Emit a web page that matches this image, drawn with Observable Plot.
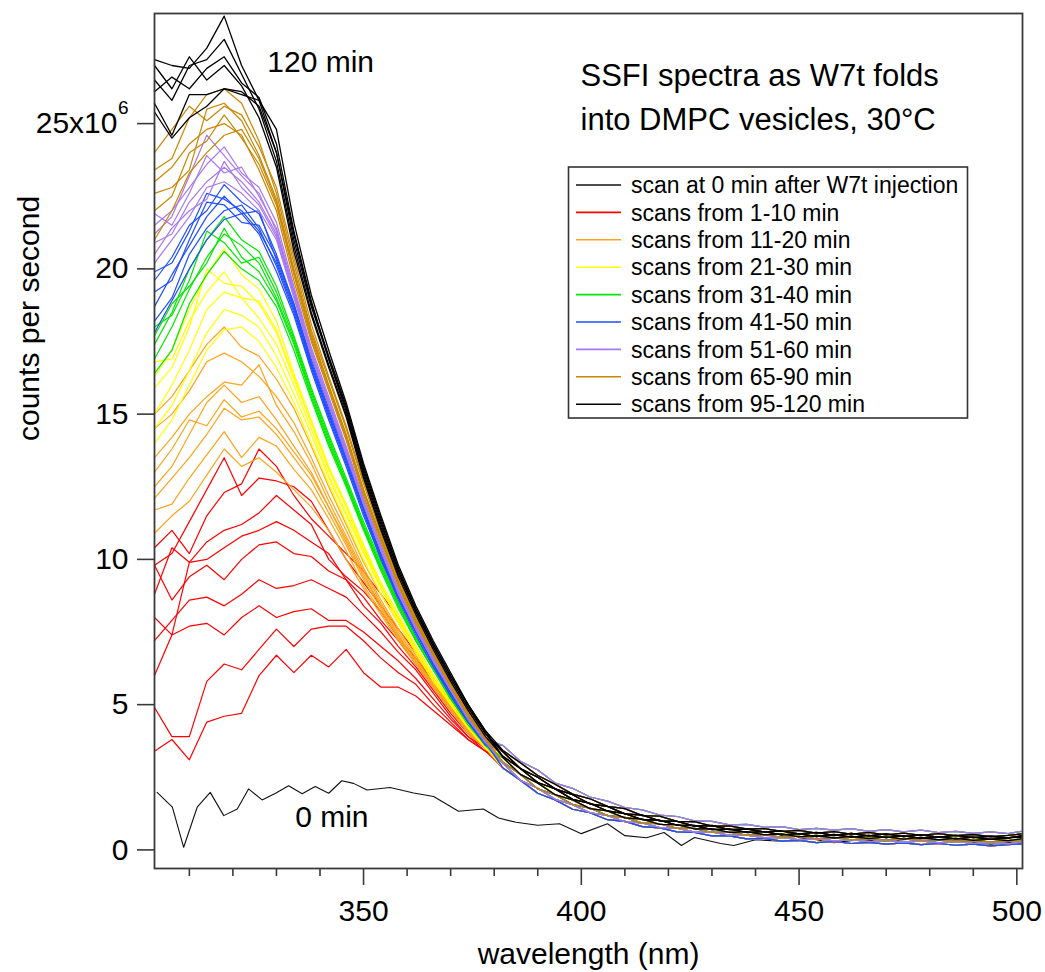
<!DOCTYPE html>
<html><head><meta charset="utf-8">
<script src="https://cdn.jsdelivr.net/npm/d3@7"></script>
<script src="https://cdn.jsdelivr.net/npm/@observablehq/plot@0.6"></script>
<style>
body{margin:0;background:#fff;font-family:"Liberation Sans",Arial,sans-serif}
#chart{width:1045px;height:972px}
</style></head><body><div id="chart"></div>
<script>
// ---- wavelength grids (nm) ----
const headWavelengths = [302,306,310,314,318,322,326,330,334,338,342,346,350,354,358,362,366,370,374,378];
const tailWavelengths = [382,386,390,394,398,402,406,410,414,418,422,426,430,434,438,442,446,450,454,458,462,466,470,474,478,482,486,490,494,498,501];
// overlapping tails beyond 380 nm (x10^6 counts/s), from highest to lowest trace in the band
const tailVariants = [
  [3.6,3.05,2.75,2.3,2.12,1.82,1.68,1.46,1.38,1.2,1.15,1.0,0.98,0.86,0.88,0.78,0.8,0.7,0.74,0.68,0.73,0.64,0.7,0.62,0.68,0.6,0.64,0.57,0.62,0.56,0.64],
  [3.42,3.0,2.56,2.26,1.92,1.76,1.5,1.42,1.18,1.16,0.98,0.97,0.82,0.83,0.72,0.73,0.64,0.67,0.58,0.63,0.54,0.6,0.52,0.58,0.5,0.56,0.49,0.53,0.46,0.5,0.55],
  [3.38,2.8,2.5,2.1,1.9,1.58,1.5,1.24,1.2,1.0,0.98,0.82,0.84,0.7,0.72,0.62,0.65,0.55,0.6,0.5,0.57,0.48,0.55,0.46,0.52,0.44,0.5,0.42,0.47,0.41,0.48],
  [3.22,2.8,2.32,2.1,1.74,1.6,1.34,1.25,1.04,1.02,0.85,0.84,0.7,0.72,0.6,0.63,0.52,0.56,0.46,0.53,0.44,0.5,0.42,0.48,0.4,0.46,0.38,0.44,0.36,0.42,0.44],
  [3.18,2.6,2.3,1.9,1.72,1.42,1.34,1.1,1.06,0.88,0.87,0.72,0.73,0.6,0.63,0.52,0.55,0.45,0.5,0.41,0.47,0.39,0.45,0.37,0.43,0.35,0.4,0.33,0.37,0.32,0.38],
  [3.02,2.6,2.1,1.9,1.56,1.44,1.18,1.12,0.92,0.9,0.74,0.74,0.6,0.62,0.5,0.53,0.43,0.47,0.38,0.43,0.35,0.4,0.33,0.38,0.32,0.35,0.3,0.33,0.27,0.31,0.33],
  [2.98,2.4,2.12,1.74,1.56,1.28,1.19,0.97,0.93,0.77,0.75,0.61,0.62,0.5,0.51,0.42,0.43,0.35,0.38,0.31,0.35,0.28,0.33,0.26,0.31,0.24,0.29,0.22,0.26,0.21,0.27],
  [2.82,2.4,1.95,1.72,1.4,1.28,1.04,0.98,0.8,0.76,0.62,0.6,0.48,0.48,0.38,0.4,0.3,0.33,0.25,0.29,0.22,0.26,0.2,0.24,0.18,0.22,0.16,0.2,0.14,0.18,0.21]
];
// which tail each group's scans follow (cycled over the scans of the group)
const tailChoice = [[7,6,5,4],[6,4,2,5],[7,5,3],[6,0,4],[7,1,5],[0,6,2],[1,3,5,2],[2,3,4,1]];
// ---- scan at 0 min ----
const zeroMinWavelengths = [302.6,306.1,308.7,311.8,314.8,317.9,321,323.6,326.7,329.8,332.8,335.9,338.9,342,345,347.7,350.8,356.1,361.5,366.1,371.8,377.5,381,385,390,395,400,406,410,415,419,423,426,432,435,440,446,452,458,464,470,476,482,488,494,501];
const zeroMinCounts = [1.98,1.47,0.09,1.47,1.98,1.18,1.41,2.1,1.72,1.95,2.21,1.93,2.18,1.95,2.38,2.29,2.06,2.15,1.96,1.84,1.33,1.41,1.1,0.95,0.85,0.9,0.56,0.9,0.49,0.42,0.6,0.15,0.43,0.22,0.15,0.35,0.3,0.4,0.25,0.35,0.3,0.38,0.25,0.3,0.2,0.28];
// ---- scans (values at headWavelengths, x10^6 counts/s) ----
const scans1to10 = [
  [10.4,11.0,10.2,11.5,12.3,12.6,13.8,13.2,12.2,11.4,10.8,10.2,9.6,8.8,8.0,7.0,6.0,5.1,4.3,3.7],
  [9.8,10.2,11.3,12.4,13.5,12.2,12.8,12.7,12.5,12.0,11.0,10.0,9.2,8.4,7.6,6.8,5.9,5.0,4.2,3.6],
  [8.8,10.4,9.9,10.6,11.0,11.2,11.6,12.2,11.7,11.2,10.0,9.4,8.9,8.2,7.3,6.6,5.8,4.9,4.1,3.6],
  [8.0,7.4,9.9,10.0,10.4,10.8,11.0,11.3,11.0,10.6,10.2,9.3,8.7,7.9,7.2,6.4,5.6,4.8,4.1,3.5],
  [9.8,8.6,9.4,9.8,9.3,10.0,10.5,10.6,10.2,10.1,9.6,9.3,8.4,7.8,7.0,6.3,5.5,4.7,4.0,3.5],
  [7.2,7.9,8.6,8.7,8.4,8.8,9.3,9.0,9.1,9.3,9.0,8.7,8.1,7.5,6.8,6.2,5.4,4.6,3.9,3.5],
  [6.0,7.4,7.7,7.8,7.4,8.0,8.4,8.0,8.2,8.3,7.9,7.9,7.5,7.0,6.5,5.9,5.2,4.5,3.9,3.4],
  [4.9,3.9,3.9,5.8,6.4,6.2,6.9,7.6,7.0,7.6,7.7,7.7,7.2,6.6,6.1,5.7,5.0,4.4,3.8,3.4],
  [3.4,3.8,3.1,4.4,4.6,4.7,6.0,6.7,6.1,6.7,6.3,6.9,6.1,5.6,5.6,5.3,4.8,4.3,3.8,3.4]
];
const scans11to20 = [
  [15.0,15.6,16.5,17.4,18.0,17.3,17.0,16.2,15.2,13.9,12.5,11.2,9.9,8.8,7.8,6.8,5.9,5.0,4.2,3.6],
  [14.5,15.0,15.8,16.8,17.1,16.8,16.3,15.6,14.7,13.5,12.2,11.0,9.7,8.6,7.6,6.7,5.8,4.9,4.2,3.6],
  [13.5,14.2,15.0,15.6,16.1,16.0,16.7,15.3,14.4,13.3,12.0,10.8,9.6,8.5,7.5,6.6,5.7,4.9,4.1,3.5],
  [12.5,13.2,14.3,15.4,16.0,15.4,15.6,14.8,13.9,13.0,11.8,10.6,9.4,8.4,7.4,6.5,5.7,4.9,4.1,3.5],
  [12.1,12.8,13.5,14.3,15.2,14.8,14.9,14.3,13.5,12.7,11.6,10.5,9.3,8.3,7.3,6.5,5.7,4.8,4.1,3.5],
  [11.7,11.9,12.8,13.6,14.4,13.5,14.2,13.9,13.1,12.4,11.4,10.3,9.1,8.2,7.3,6.4,5.6,4.8,4.1,3.5],
  [10.9,11.5,12.0,12.9,13.8,13.2,13.5,13.0,12.4,11.8,11.0,10.0,9.0,8.1,7.2,6.4,5.6,4.8,4.0,3.5],
  [13.0,13.8,14.8,14.6,15.5,14.9,15.1,14.5,13.7,12.9,11.8,10.7,9.5,8.4,7.4,6.5,5.7,4.9,4.1,3.5]
];
const scans21to30 = [
  [16.3,17.2,18.6,19.8,20.7,19.8,19.3,18.2,16.4,14.8,13.2,11.9,10.5,9.2,8.1,7.0,6.0,5.1,4.3,3.6],
  [15.9,16.6,18.0,20.0,19.5,19.4,18.8,17.8,16.2,14.7,13.1,11.8,10.4,9.1,8.0,7.0,6.0,5.1,4.3,3.6],
  [15.0,16.0,17.2,18.6,19.2,19.0,18.3,17.4,16.0,14.5,12.9,11.6,10.3,9.0,7.9,6.9,5.9,5.0,4.2,3.5],
  [14.5,15.3,16.5,17.8,18.6,18.4,18.0,17.0,15.7,14.3,12.8,11.5,10.2,9.0,7.9,6.9,5.9,5.0,4.2,3.5],
  [16.8,16.9,18.2,19.2,19.9,19.0,18.9,17.9,16.3,14.7,13.1,11.8,10.4,9.1,8.0,7.0,6.0,5.1,4.3,3.6],
  [14.0,14.8,16.0,17.2,17.9,18.0,17.5,16.6,15.4,14.0,12.6,11.3,10.0,8.8,7.8,6.8,5.8,5.0,4.2,3.5]
];
const scans31to40 = [
  [17.4,18.5,20.0,21.0,21.8,21.0,20.6,19.4,17.7,15.9,14.3,12.8,11.3,9.9,8.5,7.3,6.3,5.3,4.4,3.6],
  [16.9,18.0,19.3,20.4,21.2,20.8,20.2,19.0,17.5,15.7,14.1,12.6,11.1,9.7,8.4,7.2,6.2,5.2,4.4,3.6],
  [18.0,18.4,19.6,21.3,20.9,20.2,20.4,19.2,17.6,15.8,14.2,12.7,11.2,9.8,8.5,7.3,6.3,5.3,4.4,3.6],
  [16.4,17.2,18.8,19.8,20.6,20.0,19.6,18.7,17.2,15.5,13.9,12.5,11.0,9.6,8.3,7.2,6.2,5.2,4.3,3.6],
  [17.7,18.8,19.4,20.2,21.4,20.4,19.9,18.9,17.4,15.6,14.0,12.6,11.1,9.7,8.4,7.2,6.2,5.2,4.4,3.6]
];
const scans41to50 = [
  [19.6,20.4,21.5,22.0,22.9,22.3,21.9,20.5,18.8,16.9,15.2,13.6,11.8,10.2,8.8,7.6,6.5,5.4,4.5,3.7],
  [18.7,19.8,20.8,21.8,22.5,21.9,22.0,20.3,18.7,16.7,15.0,13.4,11.7,10.1,8.7,7.5,6.4,5.4,4.5,3.7],
  [18.2,19.0,20.5,21.4,22.0,22.2,21.4,20.1,18.5,16.6,14.9,13.3,11.6,10.0,8.7,7.5,6.4,5.3,4.4,3.7],
  [19.2,19.6,21.0,22.3,22.2,21.6,21.5,20.4,18.8,16.8,15.1,13.5,11.8,10.2,8.8,7.6,6.5,5.4,4.5,3.7],
  [17.8,18.9,20.0,21.0,21.7,21.9,21.2,19.9,18.4,16.5,14.8,13.2,11.5,10.0,8.6,7.4,6.3,5.3,4.4,3.6],
  [19.9,20.2,21.3,22.6,22.4,22.0,21.3,20.2,18.6,16.7,15.0,13.4,11.7,10.1,8.7,7.5,6.4,5.4,4.5,3.7]
];
const scans51to60 = [
  [21.5,22.0,22.8,23.6,24.2,23.3,22.8,21.6,19.4,17.3,15.6,13.9,12.1,10.5,9.0,7.8,6.7,5.6,4.6,3.8],
  [20.9,21.2,22.3,23.0,23.5,23.0,22.3,21.2,19.2,17.1,15.4,13.7,11.9,10.3,8.9,7.7,6.6,5.5,4.6,3.8],
  [20.2,21.0,21.8,22.8,23.0,22.6,22.0,21.0,19.0,17.0,15.3,13.6,11.9,10.3,8.8,7.6,6.5,5.5,4.5,3.7],
  [21.9,21.5,22.6,23.9,23.3,23.5,22.5,21.4,19.3,17.2,15.5,13.8,12.0,10.4,8.9,7.7,6.6,5.5,4.6,3.8],
  [20.5,21.4,22.0,22.4,23.7,22.8,22.2,21.1,19.1,17.0,15.3,13.7,11.9,10.3,8.9,7.6,6.5,5.5,4.5,3.7],
  [21.2,21.8,23.2,24.6,23.9,23.2,22.6,21.3,19.2,17.1,15.4,13.8,12.0,10.4,8.9,7.7,6.6,5.5,4.6,3.8]
];
const scans65to90 = [
  [23.4,23.8,25.2,26.0,26.2,25.7,24.4,22.6,20.2,17.9,16.2,14.5,12.6,10.9,9.3,8.0,6.9,5.8,4.8,3.9],
  [22.6,22.8,23.4,25.5,25.7,25.1,23.9,22.4,20.0,17.8,16.0,14.3,12.4,10.8,9.2,7.9,6.8,5.7,4.7,3.9],
  [22.0,22.5,24.0,24.4,25.3,24.5,23.6,22.2,19.8,17.6,15.9,14.2,12.3,10.7,9.1,7.8,6.7,5.6,4.7,3.8],
  [24.0,24.8,25.6,25.1,25.6,25.3,24.2,22.8,20.4,18.1,16.3,14.6,12.7,11.0,9.4,8.0,6.9,5.8,4.8,3.9],
  [21.0,22.0,23.3,24.0,24.6,24.8,23.8,22.3,19.9,17.7,16.0,14.3,12.4,10.7,9.2,7.9,6.8,5.7,4.7,3.8],
  [23.0,23.5,24.3,24.8,25.0,24.6,23.4,22.0,19.6,17.5,15.8,14.1,12.2,10.6,9.1,7.8,6.7,5.6,4.6,3.8]
];
const scans95to120 = [
  [27.2,27.0,26.9,27.6,28.7,27.0,25.8,24.0,21.0,18.7,16.9,15.2,13.1,11.3,9.6,8.3,7.1,6.0,5.0,4.0],
  [26.5,25.8,27.0,27.2,27.9,26.7,25.5,23.7,20.8,18.5,16.7,15.0,12.9,11.1,9.5,8.2,7.0,5.9,4.9,4.0],
  [25.7,24.6,26.0,26.0,26.2,26.1,25.6,24.0,21.2,18.8,17.0,15.3,13.2,11.4,9.7,8.3,7.1,6.0,5.0,4.1],
  [25.4,24.5,25.2,25.6,26.2,26.0,25.8,24.8,21.6,19.1,17.2,15.4,13.3,11.5,9.8,8.4,7.2,6.1,5.0,4.1],
  [26.1,26.6,26.2,26.9,27.3,26.4,25.9,24.3,21.3,18.9,16.9,15.1,13.0,11.2,9.6,8.2,7.0,5.9,4.9,4.0],
  [27.0,26.2,27.3,26.5,27.0,26.3,25.2,23.5,20.6,18.4,16.6,14.9,12.8,11.0,9.4,8.1,6.9,5.8,4.8,3.9]
];
// ---- legend / text ----
const legendLabels = ["scan at 0 min after W7t injection","scans from 1-10 min","scans from 11-20 min","scans from 21-30 min","scans from 31-40 min","scans from 41-50 min","scans from 51-60 min","scans from 65-90 min","scans from 95-120 min"];
const seriesColors = ["#111111","#ff0000","#ffa31a","#ffff00","#00e800","#1f4fff","#a878ee","#c98600","#000000"];
const titleLines = ["SSFI spectra as W7t folds","into DMPC vesicles, 30°C"];
const annotations = [{label:"120 min", wavelength:327.9, counts:27.1},{label:"0 min", wavelength:334.3, counts:1.12}];
const xMajorTicks = [350,400,450,500];
const xMinorTicks = [310,320,330,340,360,370,380,390,410,420,430,440,460,470,480,490];
const yTicks = [0,5,10,15,20,25];
const yTickLabels = ["0","5","10","15","20","25x10"];
const yTickExponent = "6";

const scanGroups = [scans1to10, scans11to20, scans21to30, scans31to40, scans41to50, scans51to60, scans65to90, scans95to120];
const rows = [];
scanGroups.forEach((curves, gi) => curves.forEach((head, ci) => {
  const id = gi + "-" + ci;
  const choice = tailChoice[gi];
  const tail = tailVariants[choice[ci % choice.length]];
  headWavelengths.forEach((w, k) => rows.push({group: gi, id, wavelength: w, counts: head[k]}));
  tailWavelengths.forEach((w, k) => rows.push({group: gi, id, wavelength: w, counts: tail[k]}));
}));
const zeroRows = zeroMinWavelengths.map((w, k) => ({wavelength: w, counts: zeroMinCounts[k]}));

const font = "Liberation Sans, Arial, sans-serif";
const axisStroke = "#3a3a3a";
const plot = Plot.plot({
  width: 1045, height: 972,
  marginLeft: 154, marginRight: 23, marginTop: 13, marginBottom: 104,
  x: {domain: [302, 501.3]},
  y: {domain: [-0.64, 28.79]},
  style: {fontFamily: font, fontSize: "30px", color: "#000", background: "#fff", overflow: "visible"},
  marks: [
    Plot.line(zeroRows, {x: "wavelength", y: "counts", stroke: seriesColors[0], strokeWidth: 1.1}),
    ...scanGroups.map((_, gi) => Plot.line(rows.filter(r => r.group === gi), {
      x: "wavelength", y: "counts", z: "id", stroke: seriesColors[gi + 1], strokeWidth: gi === 7 ? 1.3 : 1.2
    })),
    Plot.frame({stroke: axisStroke, strokeWidth: 1.8}),
    Plot.axisX(xMajorTicks, {tickSize: 17, tickPadding: 14, tickFormat: d => String(d), label: null, fontSize: 30, stroke: axisStroke, strokeWidth: 1.6}),
    Plot.axisX(xMinorTicks, {tickSize: 8, tickFormat: () => "", label: null, stroke: axisStroke, strokeWidth: 1.6}),
    Plot.axisY(yTicks, {tickSize: 17, tickFormat: () => "", label: null, stroke: axisStroke, strokeWidth: 1.6}),
    Plot.text(yTicks.slice(0, 5), {y: d => d, text: (d, i) => yTickLabels[i], frameAnchor: "left", textAnchor: "end", lineAnchor: "middle", dx: -26, fontSize: 30}),
    Plot.text(yTicks.slice(5), {y: d => d, text: () => yTickLabels[5], frameAnchor: "left", textAnchor: "end", lineAnchor: "middle", dx: -37, fontSize: 30}),
    Plot.text(yTicks.slice(5), {y: d => d, text: () => yTickExponent, frameAnchor: "left", textAnchor: "end", lineAnchor: "middle", dx: -26, dy: -16, fontSize: 19}),
    Plot.text(["wavelength (nm)"], {text: d => d, frameAnchor: "bottom", dy: 74, lineAnchor: "top", fontSize: 30}),
    Plot.text(["counts per second"], {text: d => d, frameAnchor: "left", dx: -125, rotate: -90, lineAnchor: "middle", fontSize: 30}),
    Plot.text([titleLines.join("\n")], {text: d => d, frameAnchor: "top-left", dx: 426, dy: 42, textAnchor: "start", lineAnchor: "top", fontSize: 31, lineHeight: 1.4}),
    Plot.text(annotations, {x: "wavelength", y: "counts", text: "label", textAnchor: "start", lineAnchor: "middle", fontSize: 30})
  ]
});
document.getElementById("chart").appendChild(plot);

// legend box inside the plot area
const svg = d3.select(plot);
const lg = svg.append("g").attr("font-family", font).attr("font-size", 23).attr("text-anchor", "start");
lg.append("rect").attr("x", 568.5).attr("y", 167).attr("width", 399).attr("height", 251)
  .attr("fill", "#fff").attr("stroke", "#333").attr("stroke-width", 1.6);
legendLabels.forEach((t, i) => {
  const y = 185 + i * 27.4;
  lg.append("line").attr("x1", 576).attr("x2", 621).attr("y1", y).attr("y2", y)
    .attr("stroke", seriesColors[i]).attr("stroke-width", 1.6);
  lg.append("text").attr("x", 631).attr("y", y).attr("dy", "0.36em").attr("fill", "#000").attr("text-anchor", "start").text(t);
});
</script></body></html>
